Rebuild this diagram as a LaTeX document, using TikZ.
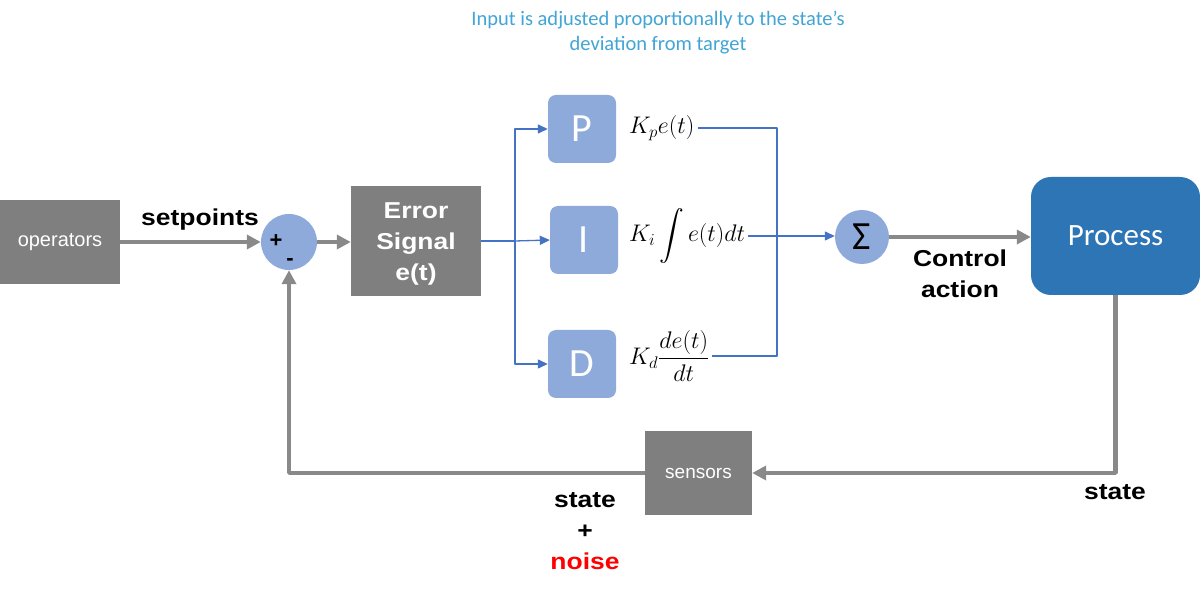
\documentclass[tikz,border=0pt]{standalone}
\usepackage{fix-cm}
\usepackage{amsmath}
\usepackage{fontspec}
\setmainfont{Liberation Sans}
\newfontfamily\lblfont[FakeStretch=1.15]{Liberation Sans}
\newfontfamily\calfont{Carlito}
\usetikzlibrary{arrows.meta,positioning,calc}

\definecolor{boxgray}{HTML}{7F7F7F}
\definecolor{flowgray}{HTML}{898989}
\definecolor{pidblue}{HTML}{8EAADB}
\definecolor{lineblue}{HTML}{4472C4}
\definecolor{procblue}{HTML}{2E75B6}
\definecolor{notecol}{HTML}{41A5D5}

\begin{document}
\begin{tikzpicture}[line join=bevel,
  graybox/.style={fill=boxgray,text=white,inner sep=0pt,align=center},
  pidbox/.style={fill=pidblue,rounded corners=8bp,minimum size=68bp,inner sep=0pt,
    text=white,font=\calfont\fontsize{40bp}{40bp}\selectfont},
  sumnode/.style={circle,fill=pidblue,inner sep=0pt},
  flow/.style={draw=flowgray,line width=4.5bp,-{Triangle[length=14bp,width=14bp]}},
  sig/.style={draw=lineblue,line width=1.3bp},
  sigarrow/.style={sig,-{Triangle[length=10bp,width=9bp]}},
  lbl/.style={font=\lblfont\bfseries\fontsize{23bp}{31bp}\selectfont,align=center},
  mathlbl/.style={font=\fontsize{24bp}{26bp}\selectfont,anchor=west,inner sep=3bp}]
\useasboundingbox[fill=white] (0bp,0bp) rectangle (1200bp,596bp);

% note on top
\node[text=notecol,align=center,font=\calfont\fontsize{20.5bp}{25bp}\selectfont] (note) at (658bp,563bp)
  {Input is adjusted proportionally to the state’s\\deviation from target};

% main loop blocks
\node[graybox,minimum width=120bp,minimum height=84bp,font=\fontsize{20bp}{22bp}\selectfont] (ops) at (60bp,354bp) {operators};
\node[sumnode,minimum size=56bp] (sum) at (289bp,354bp) {};
\node[font=\bfseries\fontsize{22bp}{22bp}\selectfont,inner sep=0pt] (plus) at ([shift={(-13bp,1bp)}]sum.center) {+};
\node[font=\bfseries\fontsize{22bp}{22bp}\selectfont,inner sep=0pt] (minus) at ([shift={(1bp,-20bp)}]sum.center) {-};
\node[graybox,lbl,text=white,minimum width=130bp,minimum height=110bp] (err) at (416bp,355bp) {};
\node[lbl,text=white] (errtxt) at ([yshift=-3bp]err.center) {Error\\Signal\\e(t)};

\node[pidbox] (P) at (582bp,467bp) {P};
\node[pidbox] (I) at (584bp,356bp) {I};
\node[pidbox] (D) at (582bp,232bp) {D};

\node[mathlbl] (kp) at (626bp,468bp) {$K_p e(t)$};
\node[mathlbl] (ki) at (626bp,360bp) {$K_i \displaystyle\int e(t)dt$};
\node[mathlbl] (kd) at (626bp,240bp) {$K_d \dfrac{de(t)}{dt}$};

\node[sumnode,minimum size=54bp,font=\calfont\fontsize{40bp}{40bp}\selectfont] (sigma) at (862bp,359bp) {Σ};
\node[fill=procblue,rounded corners=20bp,minimum width=169bp,minimum height=118bp,
  text=white,font=\calfont\fontsize{31bp}{31bp}\selectfont] (proc) at (1115.5bp,360bp) {Process};
\node[graybox,minimum width=107bp,minimum height=84bp,font=\fontsize{19bp}{21bp}\selectfont] (sens) at (698.5bp,123bp) {sensors};

% labels
\node[lbl] (setp) at (200bp,376bp) {setpoints};
\node[lbl] (ctrl) at (960bp,322bp) {Control\\action};
\node[lbl] (state) at (1115bp,104bp) {state};
\node[lbl] (noisy) at (585bp,65bp) {state\\+\\\textcolor{red}{noise}};

\coordinate (split) at (515bp,355bp);
\coordinate (join) at (777bp,360bp);

% gray flow
\draw[flow] (ops.east) -- (sum.west);
\draw[flow] (sum.east) -- (sum.east -| err.west);
\draw[flow] (sigma.east) -- (sigma.east -| proc.west);
\draw[flow] (proc.south) |- (sens.east);
\draw[flow] (sens.west) -| (sum.south);

% blue signals
\draw[sig] (err.east) -- (split);
\draw[sigarrow] (split) |- (P.west);
\draw[sigarrow] (split) -- (I.west);
\draw[sigarrow] (split) |- (D.west);
\draw[sig] (kp.east) -| (join) |- (kd.east);
\draw[sigarrow] (ki.east) -- (ki.east -| sigma.west);
\end{tikzpicture}
\end{document}
